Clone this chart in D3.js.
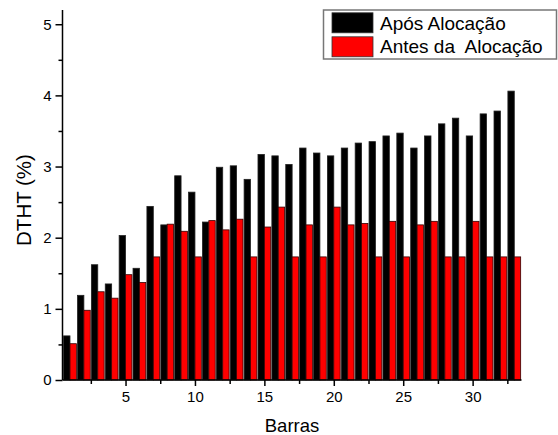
<!DOCTYPE html>
<html>
<head>
<meta charset="utf-8">
<script src="https://cdn.jsdelivr.net/npm/d3@7"></script>
<style>
  body { margin: 0; background: #fff; }
  text { font-family: "Liberation Sans", Arial, sans-serif; }
</style>
</head>
<body>
<div id="chart"></div>
<script>
// bus numbers
const barras = d3.range(1, 34);

// DTHT (%) after allocation
const aposAlocacao = [0.62, 1.19, 1.62, 1.35, 2.03, 1.57, 2.44, 2.18, 2.87, 2.64,
  2.22, 2.99, 3.01, 2.82, 3.17, 3.15, 3.03, 3.26, 3.19, 3.15,
  3.26, 3.33, 3.35, 3.43, 3.47, 3.26, 3.43, 3.60, 3.68, 3.43,
  3.74, 3.78, 4.06];

// DTHT (%) before allocation
const antesAlocacao = [0.51, 0.98, 1.24, 1.15, 1.48, 1.37, 1.73, 2.19, 2.09, 1.73,
  2.24, 2.11, 2.26, 1.73, 2.15, 2.43, 1.73, 2.18, 1.73, 2.43,
  2.18, 2.20, 1.73, 2.23, 1.73, 2.18, 2.23, 1.73, 1.73, 2.23,
  1.73, 1.73, 1.73];

const xTicks = [5, 10, 15, 20, 25, 30];
const yTicks = [0, 1, 2, 3, 4, 5];
const legendLabels = ["Após Alocação", "Antes da  Alocação"];
const colors = ["#000000", "#ff0000"];

const width = 558, height = 435;
const svg = d3.select("#chart").append("svg")
  .attr("width", width)
  .attr("height", height);

const mLeft = 62.5, mRight = 521.5, mTop = 10, mBottom = 380;

let x = d3.scaleLinear().domain([0.46, 33.52]).range([mLeft, mRight]);
let y = d3.scaleLinear().domain([0, 5.2]).range([mBottom, mTop]);

const bw = 0.46; // bar width in x units

// black bars (after)
svg.append("g").selectAll("rect")
  .data(barras)
  .enter().append("rect")
  .attr("x", d => x(d - bw))
  .attr("y", (d, i) => y(aposAlocacao[i]))
  .attr("width", x(bw) - x(0))
  .attr("height", (d, i) => y(0) - y(aposAlocacao[i]))
  .style("fill", colors[0])
  .style("stroke", "#222")
  .style("stroke-width", 0.8);

// red bars (before)
svg.append("g").selectAll("rect")
  .data(barras)
  .enter().append("rect")
  .attr("x", d => x(d))
  .attr("y", (d, i) => y(antesAlocacao[i]))
  .attr("width", x(bw) - x(0))
  .attr("height", (d, i) => y(0) - y(antesAlocacao[i]))
  .style("fill", colors[1])
  .style("stroke", "#300")
  .style("stroke-width", 0.8);

// y axis
let yAxis = svg.append("g")
  .attr("transform", `translate(${mLeft},0)`)
  .call(d3.axisLeft(y).tickValues(yTicks).tickSize(7).tickPadding(4).tickFormat(d3.format("d")));
svg.append("g")
  .attr("transform", `translate(${mLeft},0)`)
  .call(d3.axisLeft(y).tickValues(d3.range(0.5, 5.5, 1)).tickSize(4).tickFormat(""))
  .select(".domain").remove();
yAxis.select(".domain").attr("d", `M0,${mTop}V${mBottom}`);

// x axis
let xAxis = svg.append("g")
  .attr("transform", `translate(0,${mBottom})`)
  .call(d3.axisBottom(x).tickValues(xTicks).tickSize(6).tickPadding(5).tickFormat(d3.format("d")));
svg.append("g")
  .attr("transform", `translate(0,${mBottom})`)
  .call(d3.axisBottom(x).tickValues([2.5, 7.5, 12.5, 17.5, 22.5, 27.5, 32.5]).tickSize(4).tickFormat(""))
  .select(".domain").remove();
xAxis.select(".domain").attr("d", `M${mLeft},0H${mRight}`);

svg.selectAll(".domain, .tick line").style("stroke", "#000").style("stroke-width", 1.5);
svg.selectAll(".tick text").style("font-size", "15px").style("fill", "#000")
  .style("font-family", "'Liberation Sans', Arial, sans-serif");

// axis titles
svg.append("text")
  .attr("x", 292)
  .attr("y", 432)
  .style("text-anchor", "middle")
  .style("font-size", "18.5px")
  .text("Barras");

svg.append("text")
  .attr("transform", "translate(31,200) rotate(-90)")
  .style("text-anchor", "middle")
  .style("font-size", "20.5px")
  .text("DTHT (%)");

// legend
let legend = svg.append("g");
legend.append("rect")
  .attr("x", 323.5)
  .attr("y", 10)
  .attr("width", 233)
  .attr("height", 49)
  .style("fill", "#fff")
  .style("stroke", "#777")
  .style("stroke-width", 1.5);

legend.selectAll(".swatch")
  .data(legendLabels)
  .enter().append("rect")
  .attr("class", "swatch")
  .attr("x", 332)
  .attr("y", (d, i) => 12.8 + i * 24)
  .attr("width", 41)
  .attr("height", 20)
  .style("fill", (d, i) => colors[i])
  .style("stroke", "#333")
  .style("stroke-width", 0.8);

legend.selectAll(".legend-text")
  .data(legendLabels)
  .enter().append("text")
  .attr("class", "legend-text")
  .attr("x", 380)
  .attr("y", (d, i) => 29.5 + i * 23.5)
  .style("font-size", "19px")
  .style("white-space", "pre")
  .attr("xml:space", "preserve")
  .text(d => d);
</script>
</body>
</html>
